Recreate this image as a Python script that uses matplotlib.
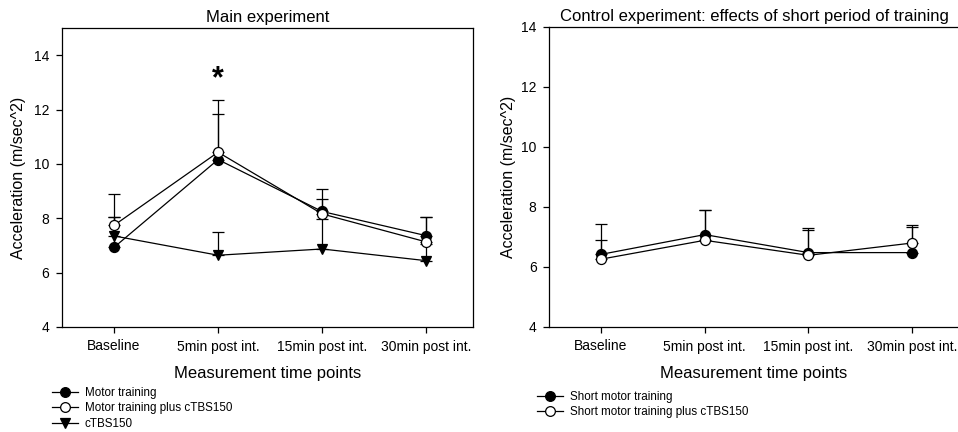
import matplotlib
matplotlib.use("Agg")
import matplotlib.pyplot as plt
from matplotlib.lines import Line2D
import numpy as np

plt.rcParams['font.family'] = ['Liberation Sans', 'DejaVu Sans']

categories = ["Baseline", "5min post int.", "15min post int.", "30min post int."]

# Main experiment
main_motor = [6.93, 10.16, 8.25, 7.36]
main_motor_err = [1.12, 1.66, 0.47, 0.70]
main_motor_ctbs = [7.74, 10.43, 8.16, 7.13]
main_motor_ctbs_err = [1.14, 1.92, 0.90, 0.92]
main_ctbs = [7.35, 6.64, 6.87, 6.44]
main_ctbs_err = [0.70, 0.85, 1.10, 0.60]
star_value = 12.83

# Control experiment
ctrl_short = [6.42, 7.08, 6.48, 6.48]
ctrl_short_err = [1.02, 0.82, 0.82, 0.85]
ctrl_short_ctbs = [6.26, 6.89, 6.39, 6.80]
ctrl_short_ctbs_err = [0.63, 1.00, 0.83, 0.59]

fig = plt.figure(figsize=(9.58, 4.32), dpi=100)
W, H = 958, 432

def px_axes(x0, x1, ytop, ybot):
    return fig.add_axes([x0 / W, 1 - ybot / H, (x1 - x0) / W, (ybot - ytop) / H])

axL = px_axes(62, 473, 28, 327)
axR = px_axes(549, 959, 27, 327)

x = np.arange(len(categories))

def series(ax, vals, err, marker, face):
    ax.errorbar(x, vals, yerr=[np.zeros(len(vals)), err], fmt='none', ecolor='black',
                elinewidth=0.9, capsize=4.2, capthick=0.9, zorder=2)
    ax.plot(x, vals, color='black', lw=0.9, marker=marker, markersize=7.2,
            markerfacecolor=face, markeredgecolor='black', markeredgewidth=0.9, zorder=3)

series(axL, main_motor, main_motor_err, 'o', 'black')
series(axL, main_motor_ctbs, main_motor_ctbs_err, 'o', 'white')
series(axL, main_ctbs, main_ctbs_err, 'v', 'black')
axL.text(x[1], star_value, '*', ha='center', va='baseline', fontsize=22, fontweight='bold')

series(axR, ctrl_short, ctrl_short_err, 'o', 'black')
series(axR, ctrl_short_ctbs, ctrl_short_ctbs_err, 'o', 'white')

axL.set_ylim(4, 15)
axR.set_ylim(4, 14)
for ax, title, lp in [(axL, "Main experiment", 5.5),
                      (axR, "Control experiment: effects of short period of training", 3.5)]:
    ax.set_xlim(-0.5, 3.45)
    ax.set_yticks([4, 6, 8, 10, 12, 14])
    ax.set_xticks(x)
    ax.set_xticklabels(categories)
    ax.tick_params(direction='out', length=4, width=0.9, labelsize=10, pad=5)
    ax.set_title(title, fontsize=12, pad=4)
    ax.set_xlabel("Measurement time points", fontsize=12, labelpad=9)
    ax.set_ylabel("Acceleration (m/sec^2)", fontsize=11.5, labelpad=lp)
    for s in ax.spines.values():
        s.set_linewidth(0.9)

def handle(marker, face):
    return Line2D([], [], color='black', lw=0.9, marker=marker, markersize=7,
                  markerfacecolor=face, markeredgecolor='black', markeredgewidth=0.9)

legL = fig.legend([handle('o', 'black'), handle('o', 'white'), handle('v', 'black')],
                  ["Motor training", "Motor training plus cTBS150", "cTBS150"],
                  loc='upper left', bbox_to_anchor=(52 / W, 1 - 387 / H),
                  frameon=False, fontsize=8.4, handlelength=2.2, handletextpad=0.6,
                  labelspacing=0.3, borderpad=0, borderaxespad=0)
legR = fig.legend([handle('o', 'black'), handle('o', 'white')],
                  ["Short motor training", "Short motor training plus cTBS150"],
                  loc='upper left', bbox_to_anchor=(537 / W, 1 - 391 / H),
                  frameon=False, fontsize=8.4, handlelength=2.2, handletextpad=0.6,
                  labelspacing=0.3, borderpad=0, borderaxespad=0)

fig.savefig("out.png", dpi=100)
